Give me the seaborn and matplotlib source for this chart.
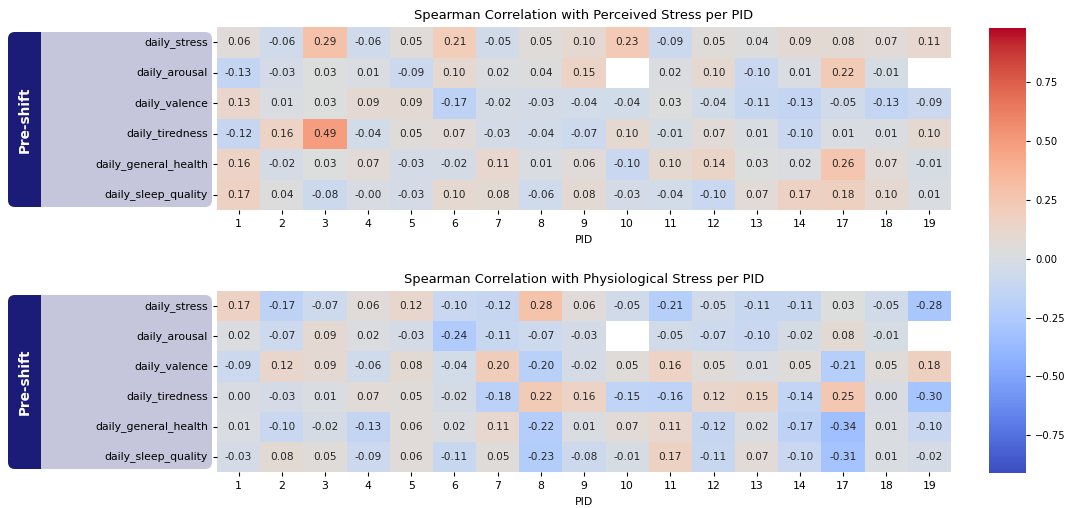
import numpy as np
import pandas as pd
import matplotlib
matplotlib.use("Agg")
import matplotlib.pyplot as plt
from matplotlib.patches import FancyBboxPatch, Rectangle
from matplotlib.transforms import IdentityTransform
import seaborn as sns

nan = np.nan

pids = [1, 2, 3, 4, 5, 6, 7, 8, 9, 10, 11, 12, 13, 14, 17, 18, 19]
features = ["daily_stress", "daily_arousal", "daily_valence",
            "daily_tiredness", "daily_general_health", "daily_sleep_quality"]

# Spearman correlation with perceived stress
perceived_stress = [0.06, -0.06, 0.29, -0.06, 0.05, 0.21, -0.05, 0.05, 0.10, 0.23, -0.09, 0.05, 0.04, 0.09, 0.08, 0.07, 0.11]
perceived_arousal = [-0.13, -0.03, 0.03, 0.01, -0.09, 0.10, 0.02, 0.04, 0.15, nan, 0.02, 0.10, -0.10, 0.01, 0.22, -0.01, nan]
perceived_valence = [0.13, 0.01, 0.03, 0.09, 0.09, -0.17, -0.02, -0.03, -0.04, -0.04, 0.03, -0.04, -0.11, -0.13, -0.05, -0.13, -0.09]
perceived_tiredness = [-0.12, 0.16, 0.49, -0.04, 0.05, 0.07, -0.03, -0.04, -0.07, 0.10, -0.01, 0.07, 0.01, -0.10, 0.01, 0.01, 0.10]
perceived_health = [0.16, -0.02, 0.03, 0.07, -0.03, -0.02, 0.11, 0.01, 0.06, -0.10, 0.10, 0.14, 0.03, 0.02, 0.26, 0.07, -0.01]
perceived_sleep = [0.17, 0.04, -0.08, -0.001, -0.03, 0.10, 0.08, -0.06, 0.08, -0.03, -0.04, -0.10, 0.07, 0.17, 0.18, 0.10, 0.01]

# Spearman correlation with physiological stress
physio_stress = [0.17, -0.17, -0.07, 0.06, 0.12, -0.10, -0.12, 0.28, 0.06, -0.05, -0.21, -0.05, -0.11, -0.11, 0.03, -0.05, -0.28]
physio_arousal = [0.02, -0.07, 0.09, 0.02, -0.03, -0.24, -0.11, -0.07, -0.03, nan, -0.05, -0.07, -0.10, -0.02, 0.08, -0.01, nan]
physio_valence = [-0.09, 0.12, 0.09, -0.06, 0.08, -0.04, 0.20, -0.20, -0.02, 0.05, 0.16, 0.05, 0.01, 0.05, -0.21, 0.05, 0.18]
physio_tiredness = [0.00, -0.03, 0.01, 0.07, 0.05, -0.02, -0.18, 0.22, 0.16, -0.15, -0.16, 0.12, 0.15, -0.14, 0.25, 0.00, -0.30]
physio_health = [0.01, -0.10, -0.02, -0.13, 0.06, 0.02, 0.11, -0.22, 0.01, 0.07, 0.11, -0.12, 0.02, -0.17, -0.34, 0.01, -0.10]
physio_sleep = [-0.03, 0.08, 0.05, -0.09, 0.06, -0.11, 0.05, -0.23, -0.08, -0.01, 0.17, -0.11, 0.07, -0.10, -0.31, 0.01, -0.02]

perceived = pd.DataFrame([perceived_stress, perceived_arousal, perceived_valence,
                          perceived_tiredness, perceived_health, perceived_sleep],
                         index=features, columns=pids)
physio = pd.DataFrame([physio_stress, physio_arousal, physio_valence,
                       physio_tiredness, physio_health, physio_sleep],
                      index=features, columns=pids)

VMIN, VMAX = -0.91, 0.98
W, H = 1070, 508

fig = plt.figure(figsize=(W / 100, H / 100), dpi=100)


def frac(x0, y0, x1, y1):
    """Pixel box (top-left origin) to figure fractions."""
    return [x0 / W, (H - y1) / H, (x1 - x0) / W, (y1 - y0) / H]


ax_top = fig.add_axes(frac(217, 27, 951, 210))
ax_bot = fig.add_axes(frac(217, 291, 951, 472))
cax = fig.add_axes(frac(989, 28, 1026, 473))

panels = [
    (ax_top, perceived, "Spearman Correlation with Perceived Stress per PID", True),
    (ax_bot, physio, "Spearman Correlation with Physiological Stress per PID", False),
]

for ax, df, title, with_cbar in panels:
    sns.heatmap(df, ax=ax, cmap="coolwarm", vmin=VMIN, vmax=VMAX,
                annot=True, fmt=".2f", annot_kws={"fontsize": 7.6},
                cbar=with_cbar, cbar_ax=cax if with_cbar else None)
    ax.set_title(title, fontsize=9.4, pad=6)
    ax.set_xlabel("PID", fontsize=7.8)
    ax.set_ylabel("")
    ax.tick_params(axis="both", labelsize=7.8, length=3)
    ax.set_yticklabels(ax.get_yticklabels(), rotation=0)
    ax.set_xticklabels(ax.get_xticklabels(), rotation=0)

cax.tick_params(labelsize=7.2, length=3)

# Group labels behind the row names
lavender = "#c5c5db"
navy = "#1b1b78"
for y0, y1 in [(32, 207), (295, 469)]:
    ybot = H - y1
    hgt = y1 - y0
    box = FancyBboxPatch((8, ybot), 204, hgt, boxstyle="round,pad=0,rounding_size=7",
                         facecolor=lavender, edgecolor="none",
                         transform=IdentityTransform(), zorder=-2)
    strip = FancyBboxPatch((8, ybot), 50, hgt, boxstyle="round,pad=0,rounding_size=7",
                           facecolor=navy, edgecolor="none",
                           transform=IdentityTransform(), zorder=-1.9)
    cover = Rectangle((41, ybot), 30, hgt, facecolor=lavender, edgecolor="none",
                      transform=IdentityTransform(), zorder=-1.8)
    for p in (box, strip, cover):
        fig.add_artist(p)
    fig.text(25 / W, (H - (y0 + y1) / 2) / H, "Pre-shift", rotation=90,
             color="white", fontsize=9.8, fontweight="bold",
             ha="center", va="center")

fig.savefig("out.png", dpi=100)
